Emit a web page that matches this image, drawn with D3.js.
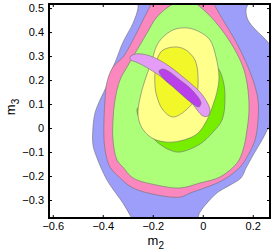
<!DOCTYPE html>
<html><head><meta charset="utf-8">
<script src="https://cdn.jsdelivr.net/npm/d3@7"></script>
<style>body{margin:0;background:#fff}svg{display:block}</style>
</head><body>
<script>
const xTicks = [-0.6, -0.4, -0.2, 0, 0.2];
const yTicks = [-0.3, -0.2, -0.1, 0, 0.1, 0.2, 0.3, 0.4, 0.5];
const xLabel = "m", xSub = "2", yLabel = "m", ySub = "3";

// contour regions [m2, m3], drawn back to front
const blueRegion = [[-0.259,0.554],[0.189,0.554],[0.173,0.492],[0.181,0.45],[0.213,0.408],[0.253,0.367],[0.289,0.317],[0.309,0.2],[0.309,0.054],[0.277,0.025],[0.237,-0.05],[0.197,-0.121],[0.173,-0.167],[0.153,-0.208],[0.109,-0.238],[0.061,-0.267],[0.021,-0.308],[-0.011,-0.35],[-0.035,-0.404],[-0.267,-0.404],[-0.291,-0.363],[-0.319,-0.313],[-0.351,-0.267],[-0.383,-0.217],[-0.423,-0.125],[-0.439,-0.071],[-0.439,0.004],[-0.431,0.063],[-0.411,0.117],[-0.383,0.179],[-0.367,0.233],[-0.347,0.283],[-0.319,0.358],[-0.279,0.437],[-0.259,0.5]];
const pinkRegion = [[-0.191,0.554],[0.029,0.554],[0.037,0.533],[0.081,0.45],[0.129,0.367],[0.169,0.283],[0.201,0.2],[0.221,0.117],[0.221,0.033],[0.209,-0.05],[0.181,-0.113],[0.149,-0.163],[0.081,-0.217],[0.017,-0.246],[-0.051,-0.271],[-0.091,-0.288],[-0.183,-0.279],[-0.279,-0.25],[-0.331,-0.208],[-0.371,-0.163],[-0.387,-0.113],[-0.395,-0.05],[-0.395,0.033],[-0.391,0.117],[-0.383,0.192],[-0.359,0.254],[-0.319,0.296],[-0.279,0.367],[-0.239,0.45],[-0.199,0.533]];
const greenRegion = [[-0.119,0.517],[-0.079,0.529],[-0.039,0.525],[0.017,0.479],[0.077,0.408],[0.129,0.325],[0.165,0.242],[0.181,0.158],[0.185,0.075],[0.177,-0.008],[0.161,-0.092],[0.137,-0.146],[0.069,-0.204],[-0.011,-0.229],[-0.091,-0.25],[-0.183,-0.238],[-0.279,-0.208],[-0.319,-0.163],[-0.343,-0.133],[-0.359,-0.05],[-0.359,0.033],[-0.351,0.117],[-0.331,0.2],[-0.303,0.254],[-0.263,0.325],[-0.223,0.396],[-0.183,0.463]];
const brightGreenRegion = [[-0.263,0.079],[-0.239,0.013],[-0.183,-0.058],[-0.131,-0.092],[-0.091,-0.1],[-0.011,-0.067],[0.041,-0.017],[0.077,0.033],[0.089,0.117],[0.081,0.2],[0.053,0.258],[-0.051,0.275],[-0.171,0.2],[-0.243,0.096]];
const yellowRegion = [[-0.151,0.387],[-0.111,0.412],[-0.059,0.417],[-0.011,0.4],[0.029,0.367],[0.053,0.296],[0.065,0.213],[0.057,0.15],[0.041,0.096],[0.017,0.033],[-0.023,-0.025],[-0.091,-0.054],[-0.151,-0.058],[-0.203,-0.042],[-0.243,0.0],[-0.259,0.054],[-0.251,0.125],[-0.231,0.2],[-0.203,0.283],[-0.183,0.346]];
const brightYellowRegion = [[-0.159,0.325],[-0.107,0.338],[-0.067,0.325],[-0.031,0.283],[-0.019,0.213],[-0.027,0.129],[-0.067,0.075],[-0.119,0.046],[-0.159,0.075],[-0.187,0.146],[-0.191,0.229],[-0.179,0.296]];
const violetRegion = [[-0.291,0.296],[-0.271,0.308],[-0.239,0.308],[-0.199,0.296],[-0.147,0.267],[-0.079,0.213],[-0.011,0.15],[0.017,0.108],[0.029,0.075],[0.021,0.05],[0.001,0.05],[-0.051,0.113],[-0.119,0.175],[-0.171,0.217],[-0.227,0.254],[-0.267,0.275],[-0.287,0.283]];
const purpleRegion = [[-0.175,0.238],[-0.159,0.246],[-0.131,0.233],[-0.091,0.2],[-0.051,0.167],[-0.019,0.129],[-0.007,0.104],[-0.015,0.088],[-0.039,0.1],[-0.083,0.138],[-0.123,0.175],[-0.159,0.208]];

const regions = [
  {pts: blueRegion, fill: "#9d9dfa"},
  {pts: pinkRegion, fill: "#fa88be"},
  {pts: greenRegion, fill: "#adff7a"},
  {pts: brightGreenRegion, fill: "#77ee00"},
  {pts: yellowRegion, fill: "#ffff8c"},
  {pts: brightYellowRegion, fill: "#f2f72a"},
  {pts: violetRegion, fill: "#e49cf6"},
  {pts: purpleRegion, fill: "#b940ea"}
];

const W = 273, H = 250;
const m = {left: 49, right: 3, top: 4, bottom: 32};
const iw = W - m.left - m.right, ih = H - m.top - m.bottom;

const x = d3.scaleLinear().domain([-0.615, 0.269]).range([0, iw]);
const y = d3.scaleLinear().domain([-0.375, 0.517]).range([ih, 0]);

const svg = d3.select("body").append("svg").attr("width", W).attr("height", H);
svg.append("defs").append("clipPath").attr("id", "clip")
  .append("rect").attr("width", iw).attr("height", ih);

const g = svg.append("g").attr("transform", `translate(${m.left},${m.top})`);

const line = d3.line().x(d => x(d[0])).y(d => y(d[1])).curve(d3.curveCatmullRomClosed.alpha(0.5));

g.append("g").attr("clip-path", "url(#clip)")
  .selectAll("path").data(regions).join("path")
  .attr("d", d => line(d.pts))
  .attr("fill", d => d.fill)
  .attr("stroke", "#6e6e6e")
  .attr("stroke-width", 0.6);

const fmt = v => (v === 0 ? "0" : d3.format(".1f")(v).replace("-", "\u2212"));
const font = "'Liberation Sans', Arial, Helvetica, sans-serif";

const xb = g.append("g").attr("transform", `translate(0,${ih})`)
  .call(d3.axisBottom(x).tickValues(xTicks).tickSize(-3).tickPadding(4).tickFormat(fmt));
const xt = g.append("g")
  .call(d3.axisTop(x).tickValues(xTicks).tickSize(-3).tickFormat(""));
const yl = g.append("g")
  .call(d3.axisLeft(y).tickValues(yTicks).tickSize(-3).tickPadding(5).tickFormat(fmt));
const yr = g.append("g").attr("transform", `translate(${iw},0)`)
  .call(d3.axisRight(y).tickValues(yTicks).tickSize(-3).tickFormat(""));

[xb, xt, yl, yr].forEach(a => {
  a.select(".domain").remove();
  a.selectAll(".tick line").attr("stroke", "#000").attr("stroke-width", 1);
  a.selectAll("text").attr("font-family", font).attr("font-size", 11).attr("fill", "#000");
});

g.append("rect").attr("width", iw).attr("height", ih)
  .attr("fill", "none").attr("stroke", "#000").attr("stroke-width", 2);

// axis titles
const xt2 = svg.append("text").attr("x", m.left + x(-0.2) + 3).attr("y", 245)
  .attr("text-anchor", "middle").attr("font-family", font).attr("font-size", 13);
xt2.append("tspan").text(xLabel);
xt2.append("tspan").attr("font-size", 10).attr("dy", 3.5).text(xSub);

const yt2 = svg.append("text").attr("transform", `translate(15,107) rotate(-90)`)
  .attr("text-anchor", "middle").attr("font-family", font).attr("font-size", 13);
yt2.append("tspan").text(yLabel);
yt2.append("tspan").attr("font-size", 10).attr("dy", 4).text(ySub);
</script>
</body></html>
